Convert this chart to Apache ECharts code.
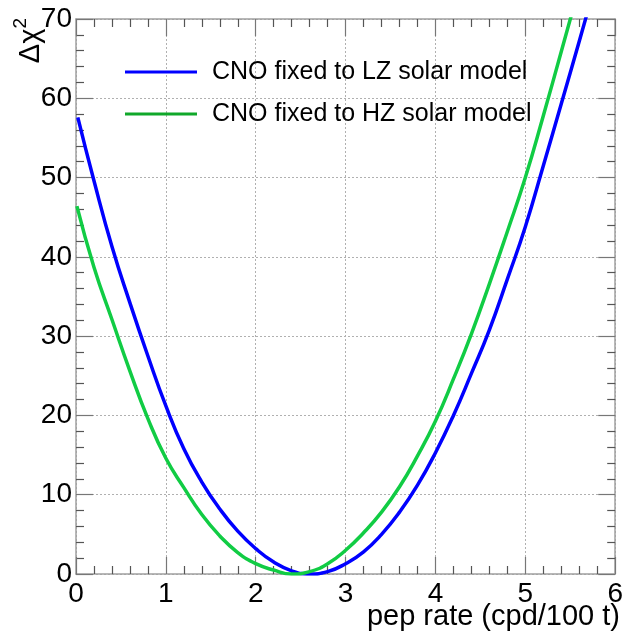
<!DOCTYPE html>
<html>
<head>
<meta charset="utf-8">
<script src="https://cdn.jsdelivr.net/npm/echarts@6/dist/echarts.min.js"></script>
<style>
  html, body { margin: 0; padding: 0; background: #fff; }
  #chart { width: 626px; height: 637px; }
</style>
</head>
<body>
<div id="chart"></div>
<script>
// Δχ² profile versus the pep neutrino rate, for two CNO constraints
const lzRate = [0.02, 0.2, 0.4, 0.6, 0.8, 1.0, 1.2, 1.4, 1.6, 1.8, 2.0, 2.2, 2.4, 2.6, 2.8, 3.0, 3.2, 3.4, 3.6, 3.8, 4.0, 4.2, 4.4, 4.6, 4.8, 5.0, 5.2, 5.4, 5.6, 5.7];
const lzChi2 = [57.6, 49.6, 41.3, 34.2, 27.5, 21.2, 15.8, 11.6, 8.2, 5.4, 3.2, 1.5, 0.4, 0.0, 0.3, 1.3, 2.8, 5.0, 7.8, 11.2, 15.3, 20.0, 25.3, 30.8, 37.2, 43.8, 51.5, 59.3, 67.2, 71.2];

const hzRate = [0.01, 0.2, 0.4, 0.6, 0.8, 1.0, 1.2, 1.4, 1.6, 1.8, 2.0, 2.2, 2.4, 2.6, 2.8, 3.0, 3.2, 3.4, 3.6, 3.8, 4.0, 4.2, 4.4, 4.6, 4.8, 5.0, 5.2, 5.4, 5.52];
const hzChi2 = [46.4, 38.7, 32.1, 25.6, 19.6, 14.6, 10.9, 7.5, 4.8, 2.7, 1.3, 0.5, 0.0, 0.3, 1.3, 3.0, 5.2, 7.8, 11.0, 14.9, 19.3, 24.6, 30.3, 36.6, 43.2, 50.0, 57.8, 65.9, 70.8];

const seriesNames = ['CNO fixed to LZ solar model', 'CNO fixed to HZ solar model'];
const xTicks = [0, 1, 2, 3, 4, 5, 6];
const yTicks = [0, 10, 20, 30, 40, 50, 60, 70];

const FONT = '"Liberation Sans", Arial, sans-serif';
const BLUE = '#0000ff';
const GREEN = '#11cc44';
const frame = { show: true, onZero: false, lineStyle: { color: '#a0a0a0', width: 1.5 } };
const majorTick = { show: true, inside: true, length: 17, lineStyle: { color: '#777', width: 1.2 } };
const minorTick = { show: true, inside: true, length: 8, splitNumber: 5, lineStyle: { color: '#555', width: 1.2 } };
const grid = { show: true, lineStyle: { color: '#b0b0b0', width: 1, type: [2, 2] } };

const pairs = (xs, ys) => xs.map((x, i) => [x, ys[i]]);

const chart = echarts.init(document.getElementById('chart'), null, { renderer: 'canvas' });
chart.setOption({
  animation: false,
  backgroundColor: '#ffffff',
  grid: { left: 76, right: 7, top: 19, bottom: 63, containLabel: false },
  xAxis: [
    {
      type: 'value', min: xTicks[0], max: xTicks[xTicks.length - 1], interval: 1,
      position: 'bottom',
      axisLine: frame, axisTick: majorTick, minorTick: minorTick,
      splitLine: grid, minorSplitLine: { show: false },
      axisLabel: { color: '#000', fontFamily: FONT, fontSize: 28, margin: 6 }
    },
    {
      type: 'value', min: xTicks[0], max: xTicks[xTicks.length - 1], interval: 1,
      position: 'top',
      axisLine: frame, axisTick: majorTick, minorTick: minorTick,
      splitLine: { show: false }, axisLabel: { show: false }
    }
  ],
  yAxis: [
    {
      type: 'value', min: yTicks[0], max: yTicks[yTicks.length - 1], interval: 10,
      position: 'left',
      axisLine: frame, axisTick: majorTick, minorTick: minorTick,
      splitLine: grid,
      axisLabel: { color: '#000', fontFamily: FONT, fontSize: 28, margin: 4 }
    },
    {
      type: 'value', min: yTicks[0], max: yTicks[yTicks.length - 1], interval: 10,
      position: 'right',
      axisLine: frame, axisTick: majorTick, minorTick: minorTick,
      splitLine: { show: false }, axisLabel: { show: false }
    }
  ],
  legend: {
    orient: 'vertical',
    left: 125, top: 57, padding: 0,
    itemWidth: 72, itemHeight: 3,
    itemGap: 12,
    icon: 'rect',
    data: [
      { name: seriesNames[0], itemStyle: { color: BLUE } },
      { name: seriesNames[1], itemStyle: { color: '#10a82a' } }
    ],
    textStyle: { color: '#000', fontFamily: FONT, fontSize: 25, lineHeight: 30, padding: [0, 0, 0, 10] }
  },
  graphic: [
    {
      type: 'text', x: 620, y: 617,
      style: { text: 'pep rate (cpd/100 t)', fill: '#000', font: '29px ' + FONT, align: 'right', verticalAlign: 'middle' }
    },
    {
      type: 'text', x: 28, y: 18, rotation: Math.PI / 2,
      style: {
        text: '{a|Δχ}{b|2}', align: 'right', verticalAlign: 'middle',
        rich: {
          a: { fontFamily: FONT, fontSize: 29, fill: '#000', verticalAlign: 'bottom' },
          b: { fontFamily: FONT, fontSize: 19, fill: '#000', padding: [0, 0, 15, 0] }
        }
      }
    }
  ],
  series: [
    {
      name: seriesNames[0], type: 'line', data: pairs(lzRate, lzChi2),
      showSymbol: false, smooth: 0.5, clip: true,
      lineStyle: { color: BLUE, width: 3.5 }, itemStyle: { color: BLUE }
    },
    {
      name: seriesNames[1], type: 'line', data: pairs(hzRate, hzChi2),
      showSymbol: false, smooth: 0.5, clip: true,
      lineStyle: { color: GREEN, width: 3.5 }, itemStyle: { color: GREEN }
    }
  ]
});
</script>
</body>
</html>
